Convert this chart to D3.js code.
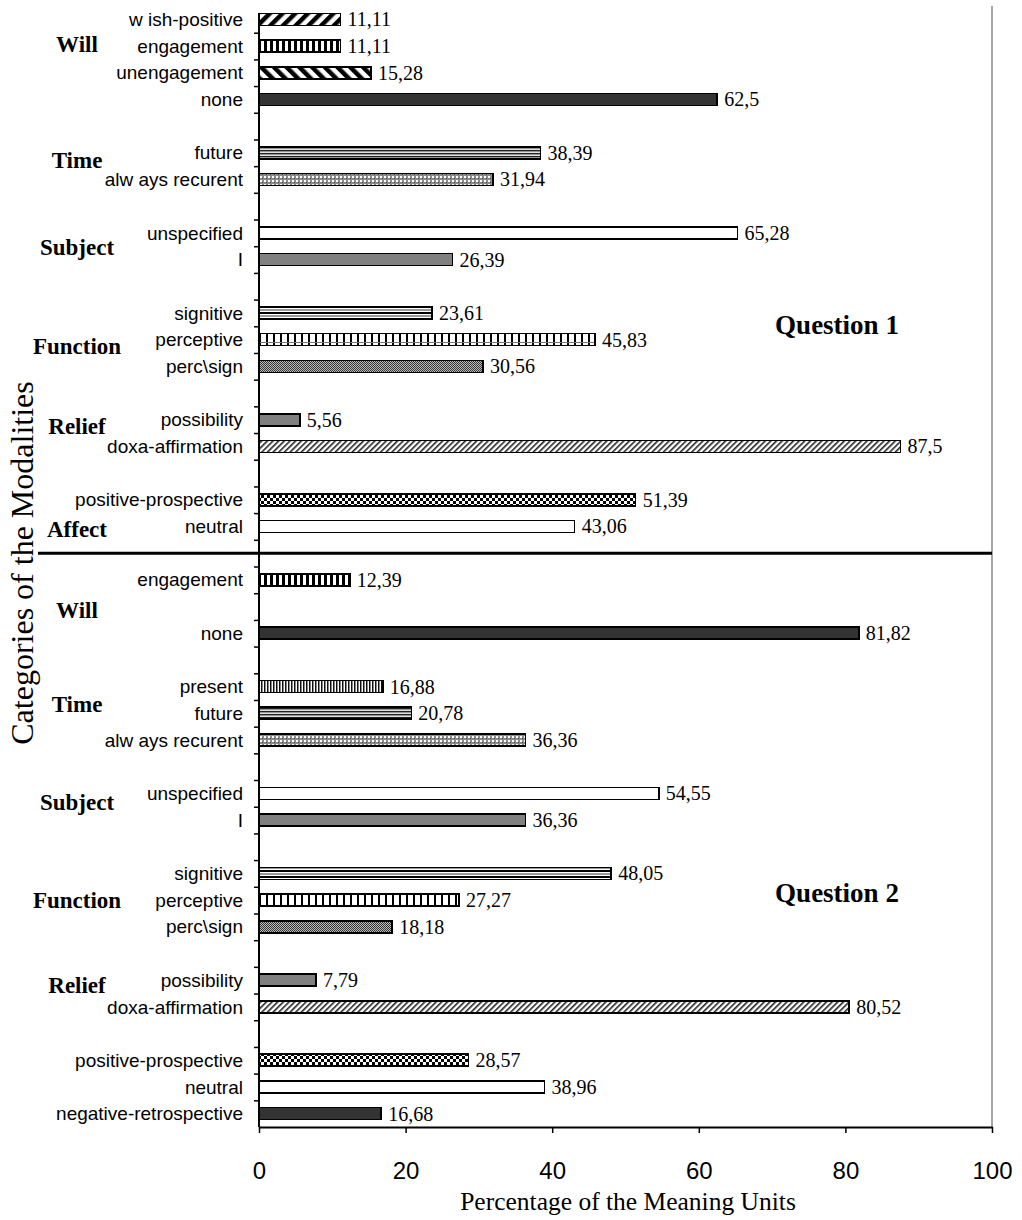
<!DOCTYPE html>
<html>
<head>
<meta charset="utf-8">
<script src="https://cdn.jsdelivr.net/npm/d3@7"></script>
<style>
  html, body { margin: 0; padding: 0; background: #fff; }
  svg { display: block; }
</style>
</head>
<body>
<svg id="chart" width="1022" height="1220"></svg>
<script>
// ---------- DATA ----------
// 42 category slots from top to bottom ("" = empty slot)
const categories = [
  "w ish-positive", "engagement", "unengagement", "none", "",
  "future", "alw ays recurent", "",
  "unspecified", "I", "",
  "signitive", "perceptive", "perc\\sign", "",
  "possibility", "doxa-affirmation", "",
  "positive-prospective", "neutral", "",
  "engagement", "", "none", "",
  "present", "future", "alw ays recurent", "",
  "unspecified", "I", "",
  "signitive", "perceptive", "perc\\sign", "",
  "possibility", "doxa-affirmation", "",
  "positive-prospective", "neutral", "negative-retrospective"
];
const values = [
  11.11, 11.11, 15.28, 62.5, null,
  38.39, 31.94, null,
  65.28, 26.39, null,
  23.61, 45.83, 30.56, null,
  5.56, 87.5, null,
  51.39, 43.06, null,
  12.39, null, 81.82, null,
  16.88, 20.78, 36.36, null,
  54.55, 36.36, null,
  48.05, 27.27, 18.18, null,
  7.79, 80.52, null,
  28.57, 38.96, 16.68
];
const fills = [
  "wideUp", "vert", "wideDown", "dark", null,
  "horiz", "dotgrid", null,
  "white", "gray", null,
  "wideHoriz", "grid", "dense", null,
  "gray", "thinUp", null,
  "checker", "white", null,
  "vert", null, "dark", null,
  "narrowVert", "horiz", "dotgrid", null,
  "white", "gray", null,
  "wideHoriz", "grid", "dense", null,
  "gray", "thinUp", null,
  "checker", "white", "dark"
];
const groupNames = ["Will", "Time", "Subject", "Function", "Relief", "Affect",
                    "Will", "Time", "Subject", "Function", "Relief"];
const groupSlot  = [0.92, 5.27, 8.53, 12.24, 15.24, 19.1,
                    22.13, 25.65, 29.32, 33.0, 36.18];
const questionNames = ["Question 1", "Question 2"];
const questionSlot = [11.45, 32.73];
const separatorSlot = 20.5;
const xTicks = [0, 20, 40, 60, 80, 100];
const xTitle = "Percentage of the Meaning Units";
const yTitle = "Categories of the Modalities";

// ---------- LAYOUT ----------
const N = categories.length;
const pLeft = 259, pRight = 992, pTop = 6, pBottom = 1127;
const svg = d3.select("#chart");
const sans = "'Liberation Sans', Arial, sans-serif";
const serif = "'Liberation Serif', 'Times New Roman', serif";

const x = d3.scaleLinear().domain([0, 100]).range([pLeft, pRight]);
const yBand = d3.scaleBand().domain(d3.range(N)).range([pTop, pBottom]);
const yPos = d3.scaleLinear().domain([0, N]).range([pTop, pBottom]);
const barH = 12;

// ---------- PATTERNS ----------
const defs = svg.append("defs");
function pat(id, w, h, transform) {
  const p = defs.append("pattern").attr("id", id)
    .attr("patternUnits", "userSpaceOnUse").attr("width", w).attr("height", h);
  if (transform) p.attr("patternTransform", transform);
  p.append("rect").attr("width", w).attr("height", h).attr("fill", "#fff");
  return p;
}
let p;
p = pat("wideUp", 9, 9, "rotate(45)");
p.append("rect").attr("width", 4.5).attr("height", 9).attr("fill", "#000");
p = pat("wideDown", 9, 9, "rotate(-45)");
p.append("rect").attr("width", 4.5).attr("height", 9).attr("fill", "#000");
p = pat("vert", 6, 6);
p.append("rect").attr("width", 3).attr("height", 6).attr("fill", "#000");
p = pat("narrowVert", 3, 3);
p.append("rect").attr("width", 1.5).attr("height", 3).attr("fill", "#111");
p = pat("horiz", 3, 3);
p.append("rect").attr("width", 3).attr("height", 1.5).attr("fill", "#222");
p.append("rect").attr("y", 1.5).attr("width", 3).attr("height", 0.8).attr("fill", "#999");
p = pat("wideHoriz", 6, 6);
p.append("rect").attr("width", 6).attr("height", 2).attr("fill", "#000");
p.append("rect").attr("y", 3).attr("width", 6).attr("height", 2).attr("fill", "#999");
p = pat("dotgrid", 4, 4);
p.select("rect").attr("fill", "#8a8a8a");
p.append("rect").attr("width", 2).attr("height", 2).attr("fill", "#fff");
p.append("rect").attr("x", 2).attr("y", 2).attr("width", 1).attr("height", 1).attr("fill", "#444");
p = pat("grid", 7, 12);
p.append("rect").attr("width", 2).attr("height", 12).attr("fill", "#000");
p.append("rect").attr("y", 6).attr("width", 7).attr("height", 1).attr("fill", "#777");
p = pat("dense", 2, 2);
p.select("rect").attr("fill", "#bbb");
p.append("rect").attr("width", 1).attr("height", 1).attr("fill", "#333");
p.append("rect").attr("x", 1).attr("y", 1).attr("width", 1).attr("height", 1).attr("fill", "#333");
p = pat("thinUp", 4, 4, "rotate(45)");
p.append("rect").attr("width", 1.6).attr("height", 4).attr("fill", "#222");
p = pat("checker", 6, 6);
p.append("rect").attr("width", 3).attr("height", 3).attr("fill", "#000");
p.append("rect").attr("x", 3).attr("y", 3).attr("width", 3).attr("height", 3).attr("fill", "#000");

const solid = { dark: "#333333", gray: "#808080", white: "#ffffff" };
const fillOf = f => solid[f] || `url(#${f})`;

// ---------- FRAME ----------
svg.append("line").attr("x1", pRight).attr("x2", pRight).attr("y1", pTop).attr("y2", pBottom)
  .attr("stroke", "#888").attr("stroke-width", 1.5);

// ---------- BARS ----------
const rows = d3.range(N).filter(i => values[i] != null)
  .map(i => ({ i, v: values[i], f: fills[i] }));

svg.append("g").selectAll("rect").data(rows).join("rect")
  .attr("x", x(0))
  .attr("y", d => yBand(d.i) + yBand.bandwidth() / 2 - barH / 2)
  .attr("width", d => x(d.v) - x(0))
  .attr("height", barH)
  .attr("fill", d => fillOf(d.f))
  .attr("stroke", "#000").attr("stroke-width", 1.6)
  .attr("shape-rendering", "crispEdges");

svg.append("g").selectAll("text").data(rows).join("text")
  .attr("x", d => x(d.v) + 7)
  .attr("y", d => yBand(d.i) + yBand.bandwidth() / 2)
  .attr("dy", "0.35em")
  .attr("font-family", serif).attr("font-size", 20).attr("fill", "#000")
  .text(d => String(d.v).replace(".", ","));

// ---------- AXES ----------
const yAxis = svg.append("g").attr("transform", `translate(${pLeft},0)`)
  .call(d3.axisLeft(yPos).tickValues(d3.range(1, N)).tickSize(5).tickFormat(""));
yAxis.select(".domain").attr("d", `M-0,${pTop + 9}V${pBottom}`).attr("stroke-width", 2);
yAxis.selectAll(".tick line").attr("stroke-width", 1.5);

const catG = svg.append("g");
catG.selectAll("text").data(d3.range(N).filter(i => categories[i] !== "")).join("text")
  .attr("x", 243)
  .attr("y", i => yBand(i) + yBand.bandwidth() / 2)
  .attr("dy", "0.35em")
  .attr("text-anchor", "end")
  .attr("font-family", sans).attr("font-size", 19).attr("fill", "#000")
  .text(i => categories[i]);

const xAxis = svg.append("g").attr("transform", `translate(0,${pBottom})`)
  .call(d3.axisBottom(x).tickValues(xTicks).tickSize(6).tickPadding(29).tickSizeOuter(0));
xAxis.select(".domain").attr("stroke-width", 2);
xAxis.selectAll(".tick line").attr("stroke-width", 1.5);
xAxis.selectAll(".tick text").attr("font-family", sans).attr("font-size", 24).attr("fill", "#000");

// ---------- SEPARATOR ----------
svg.append("line").attr("x1", 38).attr("x2", pRight)
  .attr("y1", yPos(separatorSlot)).attr("y2", yPos(separatorSlot))
  .attr("stroke", "#000").attr("stroke-width", 3);

// ---------- GROUP LABELS ----------
svg.append("g").selectAll("text").data(groupNames).join("text")
  .attr("x", 77)
  .attr("y", (d, k) => yPos(groupSlot[k] + 0.5))
  .attr("dy", "0.35em")
  .attr("text-anchor", "middle")
  .attr("font-family", serif).attr("font-weight", "bold").attr("font-size", 23)
  .attr("fill", "#000")
  .text(d => d);

svg.append("g").selectAll("text").data(questionNames).join("text")
  .attr("x", 837)
  .attr("y", (d, k) => yPos(questionSlot[k] + 0.5))
  .attr("dy", "0.35em")
  .attr("text-anchor", "middle")
  .attr("font-family", serif).attr("font-weight", "bold").attr("font-size", 27)
  .attr("fill", "#000")
  .text(d => d);

// ---------- TITLES ----------
svg.append("text")
  .attr("x", 628).attr("y", 1210)
  .attr("text-anchor", "middle")
  .attr("font-family", serif).attr("font-size", 25.5).attr("fill", "#000")
  .text(xTitle);

svg.append("text")
  .attr("transform", `translate(33,563) rotate(-90)`)
  .attr("text-anchor", "middle")
  .attr("font-family", serif).attr("font-size", 32).attr("fill", "#000")
  .text(yTitle);
</script>
</body>
</html>
